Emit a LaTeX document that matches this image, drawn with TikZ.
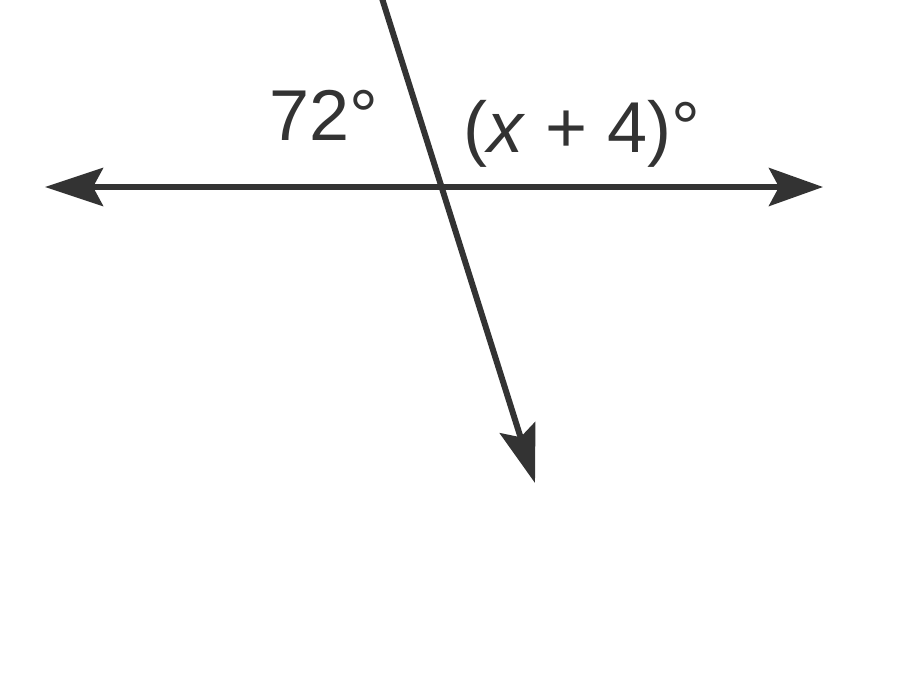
\documentclass[tikz,border=0pt]{standalone}
\usepackage{fontspec}
\setmainfont{Liberation Sans}
\usetikzlibrary{arrows.meta}
\definecolor{ink}{HTML}{333333}
\begin{document}
\begin{tikzpicture}[x=1pt,y=1pt,
  ray/.style={draw=ink,line width=6pt},
  lbl/.style={text=ink,font=\fontsize{72}{80}\selectfont,inner sep=0pt,anchor=base west}]
\useasboundingbox (0,0) rectangle (923,-697);
\coordinate (L) at (45,-187);
\coordinate (R) at (823,-187);
\coordinate (T) at (380,8);
\coordinate (B) at (535,-483);
\draw[ray,arrows={Stealth[length=58pt,width=38pt,inset=10pt]-Stealth[length=54pt,width=38pt,inset=10pt]}] (L) -- (R);
\draw[ray,arrows={-Stealth[length=58pt,width=37pt,inset=10pt]}] (T) -- (B);
\node[lbl] (a) at (269,-140) {72°};
\node[lbl] (b) at (463,-152) {(\textit{x} + 4)°};
\end{tikzpicture}
\end{document}
